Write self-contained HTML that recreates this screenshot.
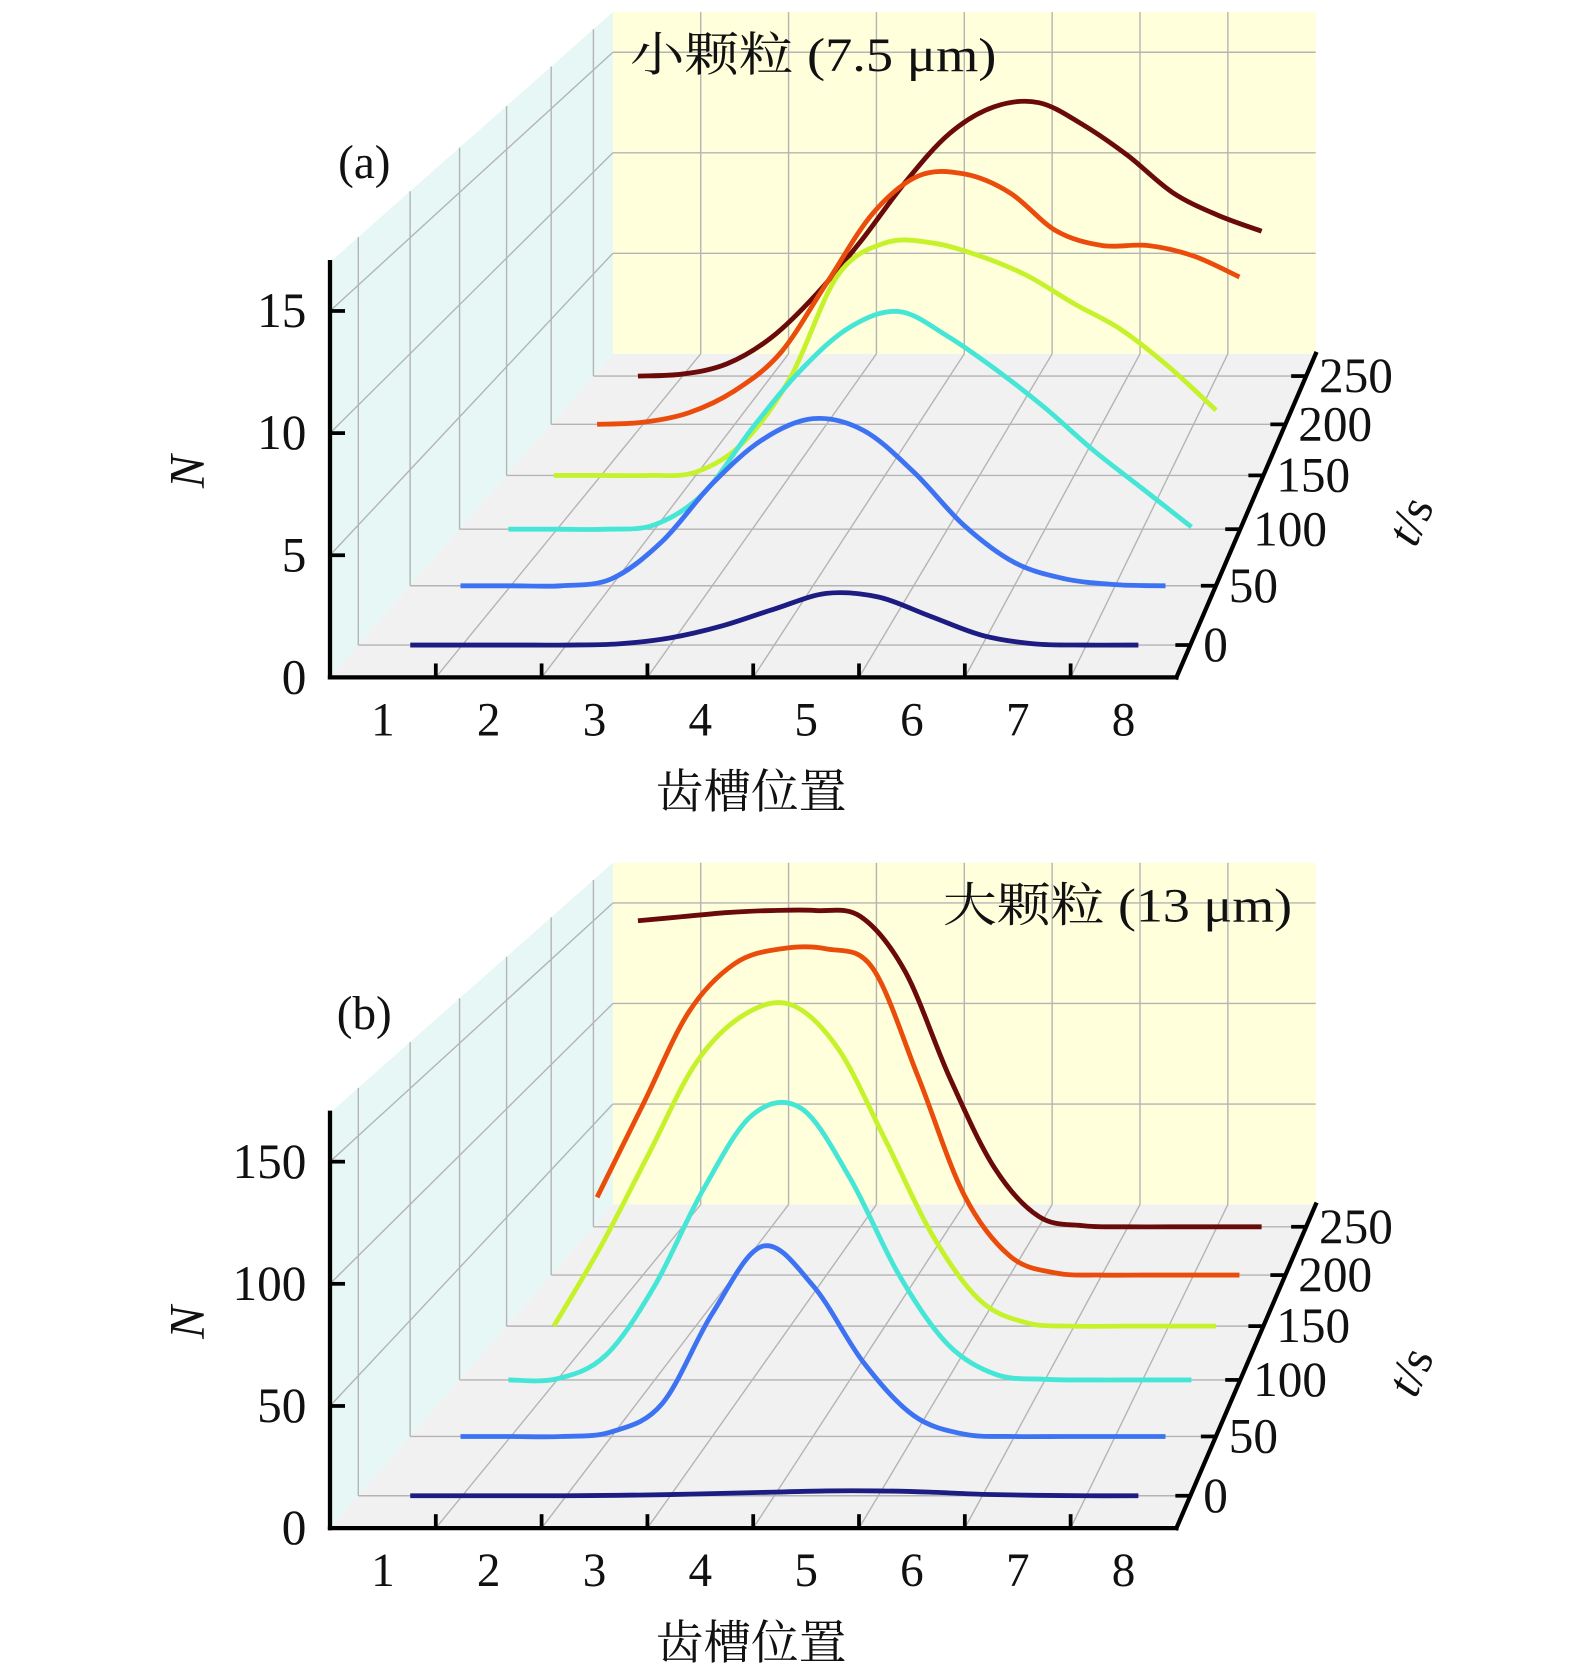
<!DOCTYPE html>
<html><head><meta charset="utf-8"><style>
html,body{margin:0;padding:0;background:#fff;}
svg{display:block;}
text{font-family:"Liberation Serif","Noto Serif CJK SC",serif;fill:#111;}
</style></head><body>
<svg id="chart" width="1575" height="1673" viewBox="0 0 1470 1561" xmlns="http://www.w3.org/2000/svg"></svg>
<script>
const positions = [1,1.5,2,2.5,3,3.5,4,4.5,5,5.5,6,6.5,7,7.5,8];
const times = [0,50,100,150,200,250];
const xTickLabels = ["1","2","3","4","5","6","7","8"];
const tTickLabels = ["0","50","100","150","200","250"];
const aYTicks = [0,5,10,15];
const bYTicks = [0,50,100,150];
const colors = ["#1c1c82","#3d72f2","#46e6d6","#c6f22c","#ea4c0c","#6a0a0a"];
// Panel (a): small particles
const a_t0   = [0,0,0,0,0.05,0.3,0.8,1.5,2.15,2.0,1.2,0.4,0.05,0,0];
const a_t50  = [0,0,0,0.3,1.9,4.4,6.3,7.2,6.7,4.9,2.6,1.0,0.3,0.05,0];
const a_t100 = [0,0,0,0.2,1.6,4.5,7.1,9.0,9.7,8.6,7.1,5.4,3.5,1.8,0.1];
const a_t150 = [0,0,0,0.15,1.5,4.5,9.2,10.7,10.7,10.1,9.2,7.9,6.7,5.0,3.0];
const a_t200 = [0,0.1,0.55,1.6,3.4,6.7,10.0,11.8,11.9,11.0,9.2,8.5,8.5,8.0,7.0];
const a_t250 = [0,0.1,0.6,1.9,4.0,6.6,9.5,11.9,13.2,13.4,12.3,10.8,9.0,7.9,7.1];
// Panel (b): large particles
const b_t0   = [0,0,0,0,0.2,0.5,1,1.5,2,2,1.5,0.6,0.2,0,0];
const b_t50  = [0,0,0,2,14,53,82,65,32,9,1,0,0,0,0];
const b_t100 = [0,0.5,11,42,85,118,121,90,47,16,2.4,0.3,0,0,0];
const b_t150 = [0,37,79,121,143,148,128,86,42,12,1.5,0,0,0,0];
const b_t200 = [37,81,125,148,155,155,146,94,38,9,1,0,0,0,0];
const b_t250 = [150,152,154,155,155,152,125,73,29,5,0.5,0,0,0,0];

const svg = document.getElementById('chart');
const NS = 'http://www.w3.org/2000/svg';
function mk(tag, attrs, parent){const e=document.createElementNS(NS,tag);for(const k in attrs)e.setAttribute(k,attrs[k]);(parent||svg).appendChild(e);return e;}
function depth(t){return 0.1+0.00375*t-0.0000017*t*t;}

function panel(oy, k, yMax, yTicks, series, title, titleX, titleW, letter, name){
  const g = mk('g',{});
  
  
  function P(u, v, d){
    const L=308+264*d, W=790-134*d, Y0=632-302*d+oy, H=k*(1-0.177*d);
    return [L+u*W, Y0-v*H];
  }
  const pu = p => (p-0.5)/8;
  const c=[P(0,0,0),P(1,0,0),P(1,0,1),P(0,0,1),P(0,yMax,1),P(1,yMax,1),P(0,yMax,0)];
  const back = mk('polygon',{points:[c[3],c[2],c[5],c[4]].join(' '),fill:'#ffffdc'},g);
  
  const side = mk('polygon',{points:[c[0],c[3],c[4],c[6]].join(' '),fill:'#e7f7f5'},g);
  
  const floor = mk('polygon',{points:[c[0],c[1],c[2],c[3]].join(' '),fill:'#f1f1f1'},g);
  
  const gs={stroke:'#b4b4b4','stroke-width':1.3,fill:'none'};
  for(let i=1;i<8;i++){const a=P(i/8,0,1),b=P(i/8,yMax,1);mk('line',Object.assign({x1:a[0],y1:a[1],x2:b[0],y2:b[1]},gs),g);}
  yTicks.slice(1).forEach(v=>{const a=P(0,v,1),b=P(1,v,1);mk('line',Object.assign({x1:a[0],y1:a[1],x2:b[0],y2:b[1]},gs),g);
    const e=P(0,v,0);mk('line',Object.assign({x1:e[0],y1:e[1],x2:a[0],y2:a[1]},gs),g);});
  times.forEach(t=>{const d=depth(t);const a=P(0,0,d),b=P(1,0,d),e=P(0,yMax,d);
    mk('line',Object.assign({x1:a[0],y1:a[1],x2:b[0],y2:b[1]},gs),g);
    mk('line',Object.assign({x1:a[0],y1:a[1],x2:e[0],y2:e[1]},gs),g);});
  for(let i=1;i<8;i++){const a=P(i/8,0,0),b=P(i/8,0,1);mk('line',Object.assign({x1:a[0],y1:a[1],x2:b[0],y2:b[1]},gs),g);}
  for(let s=series.length-1;s>=0;s--){
    const d=depth(times[s]);
    const pts=positions.map((p,i)=>P(pu(p),series[s][i],d));
    let dstr='M'+pts[0][0].toFixed(1)+','+pts[0][1].toFixed(1);
    for(let i=0;i<pts.length-1;i++){
      const p0=pts[Math.max(0,i-1)],p1=pts[i],p2=pts[i+1],p3=pts[Math.min(pts.length-1,i+2)];
      const c1=[p1[0]+(p2[0]-p0[0])/6,p1[1]+(p2[1]-p0[1])/6],c2=[p2[0]-(p3[0]-p1[0])/6,p2[1]-(p3[1]-p1[1])/6];
      dstr+=' C'+c1.map(v=>v.toFixed(1))+' '+c2.map(v=>v.toFixed(1))+' '+p2.map(v=>v.toFixed(1));
    }
    const path=mk('path',{d:dstr,fill:'none',stroke:colors[s],'stroke-width':4.5,'stroke-linejoin':'round'},g);
    
    
  }
  const ax={stroke:'#000','stroke-width':4,fill:'none','stroke-linecap':'square'};
  const top0=P(0,yMax,0);
  mk('line',Object.assign({x1:c[0][0],y1:c[0][1],x2:c[1][0],y2:c[1][1]},ax),g);
  mk('line',Object.assign({x1:c[0][0],y1:c[0][1],x2:top0[0],y2:top0[1]},ax),g);
  mk('line',Object.assign({x1:c[1][0],y1:c[1][1],x2:c[2][0],y2:c[2][1]},ax),g);
  const tk={stroke:'#000','stroke-width':3.5};
  for(let i=1;i<8;i++){const a=P(i/8,0,0);mk('line',Object.assign({x1:a[0],y1:a[1],x2:a[0],y2:a[1]-13},tk),g);}
  xTickLabels.forEach((l,i)=>{const a=P((i+0.5)/8,0,0);const t=mk('text',{x:a[0],y:a[1]+54,'font-size':44,'text-anchor':'middle'},g);t.textContent=l;
    });
  yTicks.forEach(v=>{const a=P(0,v,0);mk('line',Object.assign({x1:a[0],y1:a[1],x2:a[0]+14,y2:a[1]},tk),g);
    const t=mk('text',{x:a[0]-22,y:a[1]+15,'font-size':46,'text-anchor':'end'},g);t.textContent=String(v);
    });
  times.forEach((tv,i)=>{const a=P(1,0,depth(tv));mk('line',Object.assign({x1:a[0],y1:a[1],x2:a[0]-14,y2:a[1]},tk),g);
    const t=mk('text',{x:a[0]+12,y:a[1]+15,'font-size':46},g);t.textContent=tTickLabels[i];
    });
  let t=mk('text',{x:0,y:0,'font-size':46,'font-style':'italic',transform:`translate(190,${440+oy}) rotate(-90)`,'text-anchor':'middle'},g);t.textContent='N';
  
  t=mk('text',{x:0,y:0,'font-size':46,transform:`translate(1330,${492+oy}) rotate(-66)`,'text-anchor':'middle'},g);
  t.innerHTML='<tspan font-style="italic">t</tspan>/s';
  
  t=mk('text',{x:612,y:754+oy,'font-size':44,textLength:178,lengthAdjust:'spacingAndGlyphs'},g);t.textContent='齿槽位置';
  
  t=mk('text',{x:340,y:166+oy,'font-size':44,'text-anchor':'middle'},g);t.textContent=letter;
  
  t=mk('text',{x:titleX,y:66+oy,'font-size':44,textLength:titleW,lengthAdjust:'spacingAndGlyphs'},g);t.textContent=title;
  
}
panel(0,22.8,17,aYTicks,[a_t0,a_t50,a_t100,a_t150,a_t200,a_t250],'小颗粒 (7.5 μm)',588,342,'(a)','panel-a');
panel(794,2.28,170,bYTicks,[b_t0,b_t50,b_t100,b_t150,b_t200,b_t250],'大颗粒 (13 μm)',880,326,'(b)','panel-b');
</script>
</body></html>
